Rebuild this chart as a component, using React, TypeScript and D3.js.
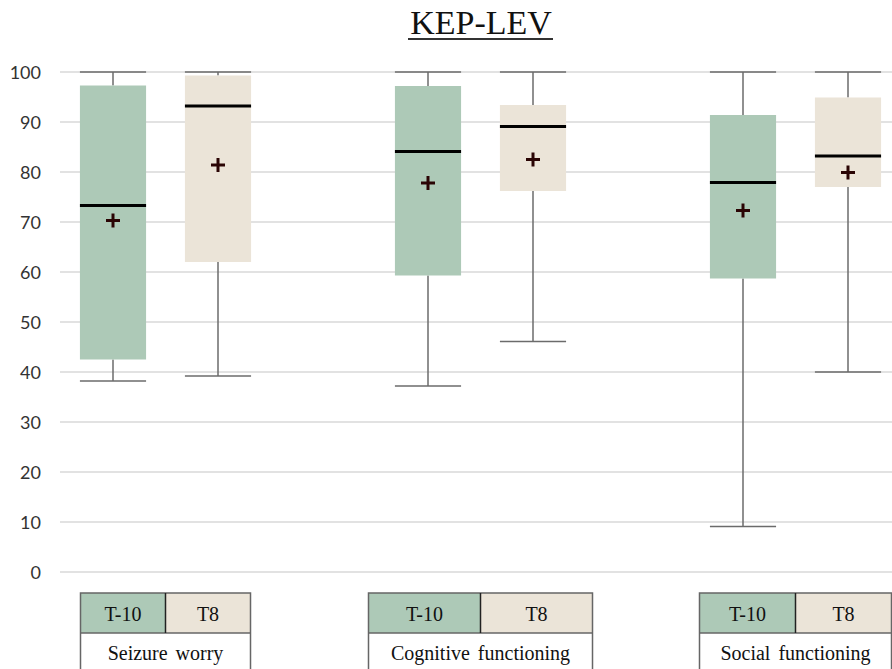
import React from "react";
import * as d3 from "d3";

const categories = ["Seizure worry", "Cognitive functioning", "Social functioning"];
const seriesNames = ["T-10", "T8"];
const yTicks = [0, 10, 20, 30, 40, 50, 60, 70, 80, 90, 100];

const minT10 = [38.2, 37.2, 9.1];
const q1T10 = [42.5, 59.3, 58.7];
const medianT10 = [73.3, 84.1, 77.9];
const q3T10 = [97.3, 97.2, 91.4];
const maxT10 = [100, 100, 100];
const meanT10 = [70.3, 77.8, 72.3];

const minT8 = [39.2, 46.1, 40.0];
const q1T8 = [62.0, 76.2, 77.0];
const medianT8 = [93.2, 89.1, 83.2];
const q3T8 = [99.3, 93.4, 94.9];
const maxT8 = [100, 100, 100];
const meanT8 = [81.4, 82.5, 79.9];

const colors: Record<string, string> = { "T-10": "#adc9b7", T8: "#ebe4d8" };
const tableHalfWidths = [85, 112, 96];

const W = 892;
const H = 669;

export default function App() {
  const y = d3.scaleLinear().domain([0, 100]).range([572, 72]);
  const slots: string[] = [];
  categories.forEach((c, i) => {
    slots.push(`${i}|T-10`, `${i}|T8`);
    if (i < categories.length - 1) slots.push(`${i}|gap`);
  });
  const x = d3.scaleBand().domain(slots).range([60.5, 900.5]);
  const bw = x.bandwidth() * 0.63;

  const boxes = categories.flatMap((c, i) => [
    { key: `${i}|T-10`, s: "T-10", min: minT10[i], q1: q1T10[i], med: medianT10[i], q3: q3T10[i], max: maxT10[i], mean: meanT10[i] },
    { key: `${i}|T8`, s: "T8", min: minT8[i], q1: q1T8[i], med: medianT8[i], q3: q3T8[i], max: maxT8[i], mean: meanT8[i] },
  ]);

  const cx = (k: string) => (x(k) as number) + x.bandwidth() / 2;
  const serif = "'Liberation Serif', 'Times New Roman', serif";

  return (
    <svg width={W} height={H} style={{ position: "fixed", left: 0, top: 0, background: "#fff" }}>
      <text x={481} y={34} textAnchor="middle" fontFamily={serif} fontSize={34} fill="#111">KEP-LEV</text>
      <line x1={408} x2={553} y1={39} y2={39} stroke="#333" strokeWidth={2} />

      {yTicks.map((t) => (
        <g key={t}>
          <line x1={60} x2={W} y1={y(t)} y2={y(t)} stroke="#e2e2e2" strokeWidth={2} />
          <text x={41} y={y(t) + 6.5} textAnchor="end" fontFamily="Lato, 'Open Sans', sans-serif" fontSize={18} fill="#333">{t}</text>
        </g>
      ))}

      {boxes.map((b) => {
        const c = cx(b.key);
        const l = c - bw / 2;
        return (
          <g key={b.key}>
            <line x1={c} x2={c} y1={y(b.max)} y2={y(b.q3)} stroke="#6b6b6b" strokeWidth={1.5} />
            <line x1={c} x2={c} y1={y(b.q1)} y2={y(b.min)} stroke="#6b6b6b" strokeWidth={1.5} />
            <line x1={l} x2={l + bw} y1={y(b.max)} y2={y(b.max)} stroke="#6b6b6b" strokeWidth={1.5} />
            <line x1={l} x2={l + bw} y1={y(b.min)} y2={y(b.min)} stroke="#6b6b6b" strokeWidth={1.5} />
            <rect x={l} y={y(b.q3)} width={bw} height={y(b.q1) - y(b.q3)} fill={colors[b.s]} />
            <line x1={l} x2={l + bw} y1={y(b.med)} y2={y(b.med)} stroke="#000" strokeWidth={3} />
            <g stroke="#2a0404" strokeWidth={3}>
              <line x1={c - 7} x2={c + 7} y1={y(b.mean)} y2={y(b.mean)} />
              <line x1={c} x2={c} y1={y(b.mean) - 7} y2={y(b.mean) + 7} />
            </g>
          </g>
        );
      })}

      {categories.map((cat, i) => {
        const mid = ((x(`${i}|T-10`) as number) + (x(`${i}|T8`) as number) + x.bandwidth()) / 2;
        const hw = tableHalfWidths[i];
        const top = 593;
        const rowH = 40;
        return (
          <g key={cat}>
            <rect x={mid - hw} y={top} width={hw} height={rowH} fill={colors["T-10"]} />
            <rect x={mid} y={top} width={hw} height={rowH} fill={colors["T8"]} />
            <rect x={mid - hw} y={top} width={hw * 2} height={rowH * 2} fill="none" stroke="#666" strokeWidth={1.5} />
            <line x1={mid - hw} x2={mid + hw} y1={top + rowH} y2={top + rowH} stroke="#666" strokeWidth={1.5} />
            <line x1={mid} x2={mid} y1={top} y2={top + rowH} stroke="#222" strokeWidth={1.5} />
            {seriesNames.map((s, j) => (
              <text key={s} x={mid + (j === 0 ? -hw / 2 : hw / 2)} y={top + 28} textAnchor="middle" fontFamily={serif} fontSize={20} fill="#111">{s === "T-10" ? "T-10" : s}</text>
            ))}
            <text x={mid} y={top + 67} textAnchor="middle" fontFamily={serif} fontSize={20} fill="#111" style={{ wordSpacing: "3px" }}>{cat}</text>
          </g>
        );
      })}
    </svg>
  );
}
